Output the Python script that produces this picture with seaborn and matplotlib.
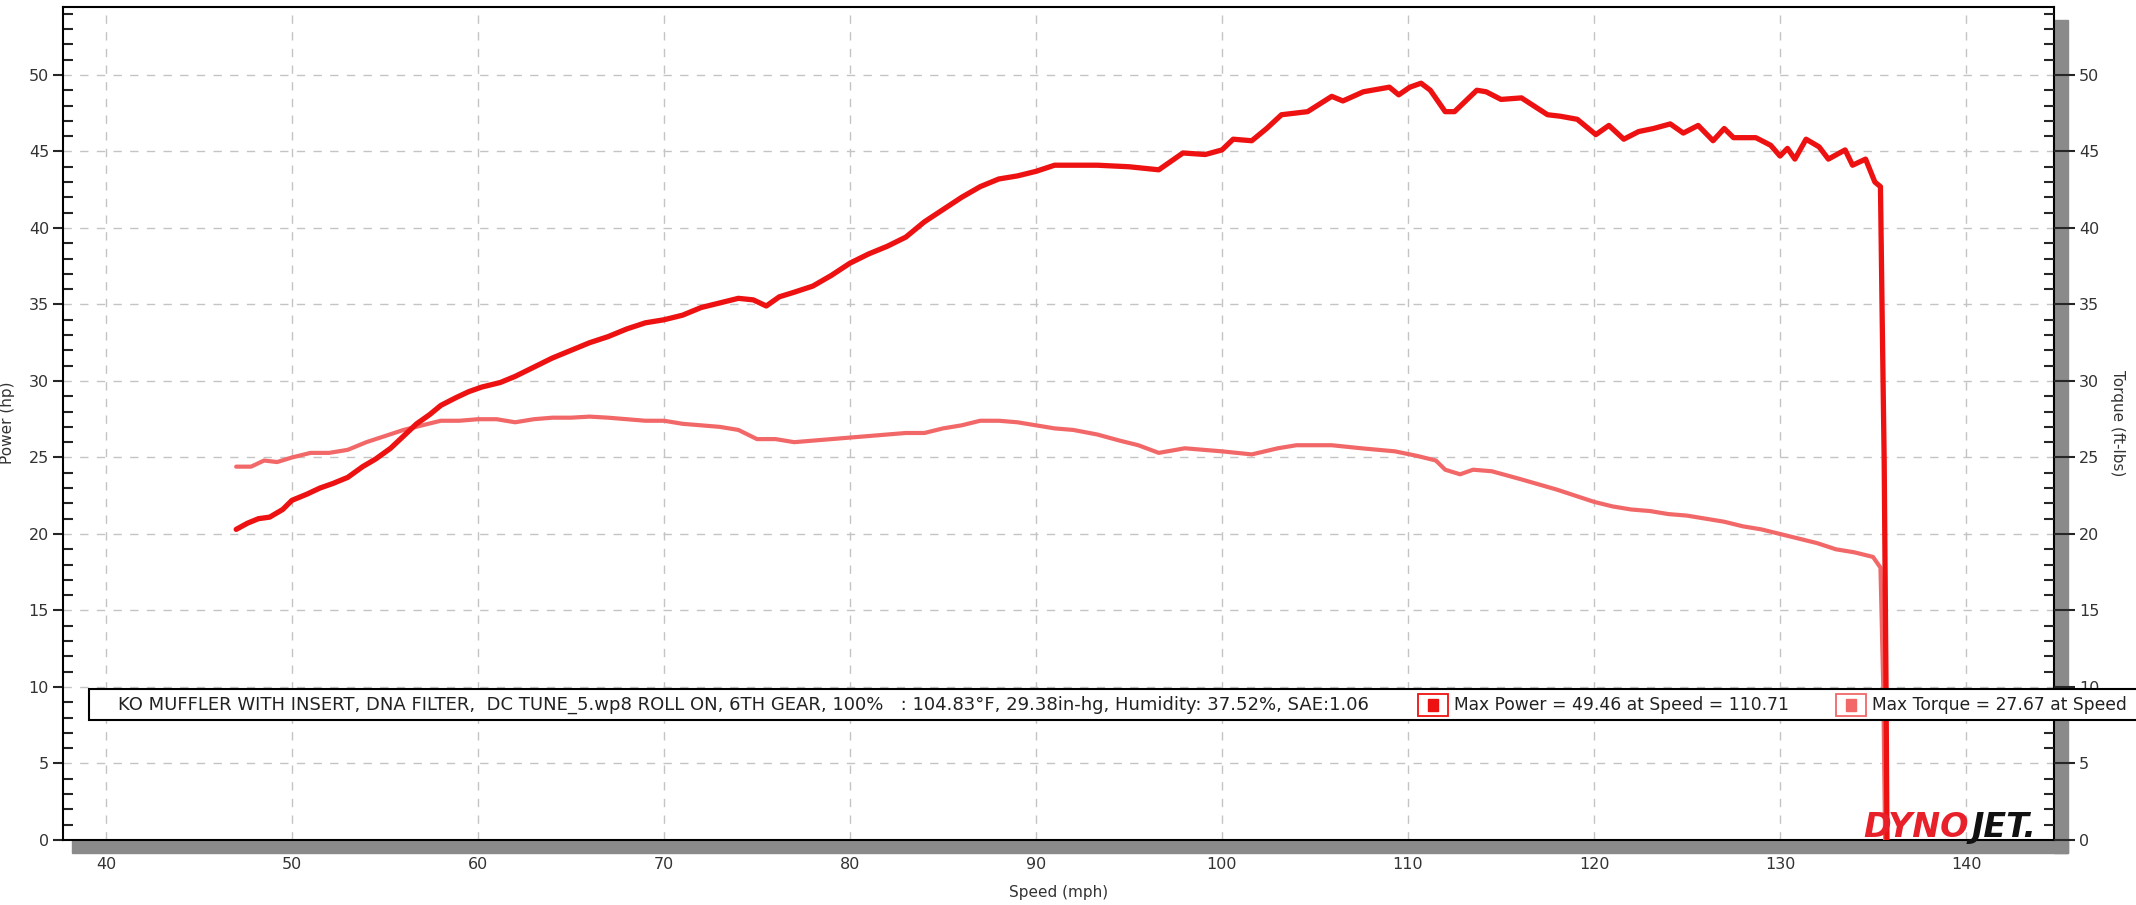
import numpy as np
import pandas as pd
from matplotlib import pyplot as plt
from matplotlib.patches import Rectangle
from matplotlib.ticker import MultipleLocator
import seaborn as sns
sns.set_style("white")
plt.rcParams['font.family'] = ['DejaVu Sans']

# Dyno run: power and torque vs road speed

power_speed = [47.0, 47.6, 48.2, 48.8, 49.5, 50.0, 50.8, 51.5, 52.2, 53.0,
               53.8, 54.5, 55.3, 56.0, 56.7, 57.4, 58.0, 58.8, 59.5, 60.2,
               61.2, 62.0, 63.0, 64.0, 65.0, 66.0, 67.0, 68.0, 69.0, 70.0,
               71.0, 72.0, 73.0, 74.0, 74.8, 75.5, 76.2, 77.0, 78.0, 79.0,
               80.0, 81.0, 82.0, 83.0, 84.0, 85.0, 86.0, 87.0, 88.0, 89.0,
               90.0, 91.0, 92.0, 93.3, 95.0, 96.6, 97.9, 99.1, 100.0, 100.6,
               101.6, 102.4, 103.2, 104.6, 105.9, 106.5, 107.6, 109.0, 109.5, 110.1,
               110.7, 111.2, 112.0, 112.5, 113.7, 114.2, 115.0, 116.1, 117.5, 118.2,
               119.1, 120.1, 120.8, 121.6, 122.4, 123.2, 124.1, 124.8, 125.6, 126.4,
               127.0, 127.5, 128.7, 129.5, 130.0, 130.4, 130.8, 131.4, 132.1, 132.6,
               133.5, 133.9, 134.6, 135.1, 135.4, 135.5, 135.6, 135.7, 135.75]
power_hp = [20.3, 20.7, 21.0, 21.1, 21.6, 22.2, 22.6, 23.0, 23.3, 23.7,
            24.4, 24.9, 25.6, 26.4, 27.2, 27.8, 28.4, 28.9, 29.3, 29.6,
            29.9, 30.3, 30.9, 31.5, 32.0, 32.5, 32.9, 33.4, 33.8, 34.0,
            34.3, 34.8, 35.1, 35.4, 35.3, 34.9, 35.5, 35.8, 36.2, 36.9,
            37.7, 38.3, 38.8, 39.4, 40.4, 41.2, 42.0, 42.7, 43.2, 43.4,
            43.7, 44.1, 44.1, 44.1, 44.0, 43.8, 44.9, 44.8, 45.1, 45.8,
            45.7, 46.5, 47.4, 47.6, 48.6, 48.3, 48.9, 49.2, 48.7, 49.2,
            49.46, 49.0, 47.6, 47.6, 49.0, 48.9, 48.4, 48.5, 47.4, 47.3,
            47.1, 46.1, 46.7, 45.8, 46.3, 46.5, 46.8, 46.2, 46.7, 45.7,
            46.5, 45.9, 45.9, 45.4, 44.7, 45.2, 44.5, 45.8, 45.3, 44.5,
            45.1, 44.1, 44.5, 43.0, 42.7, 33.5, 24.8, 10.0, 0.0]

torque_speed = [47.0, 47.8, 48.5, 49.2, 50.0, 51.0, 52.0, 53.0, 54.0, 55.0,
                56.0, 57.0, 58.0, 59.0, 60.0, 61.0, 62.0, 63.0, 64.0, 65.0,
                66.0, 67.0, 68.0, 69.0, 70.0, 71.0, 72.0, 73.0, 74.0, 75.0,
                76.0, 77.0, 78.0, 79.0, 80.0, 81.0, 82.0, 83.0, 84.0, 85.0,
                86.0, 87.0, 88.0, 89.0, 90.0, 91.0, 92.0, 93.3, 94.5, 95.5,
                96.6, 98.0, 100.0, 101.6, 103.0, 104.0, 105.9, 107.5, 109.3, 110.5,
                111.5, 112.0, 112.8, 113.5, 114.5, 116.0, 118.0, 119.0, 120.0, 121.0,
                122.0, 123.0, 124.0, 125.0, 126.0, 127.0, 128.0, 129.0, 130.0, 131.0,
                132.0, 133.0, 134.0, 135.0, 135.4, 135.55, 135.65]
torque_ftlb = [24.4, 24.4, 24.8, 24.7, 25.0, 25.3, 25.3, 25.5, 26.0, 26.4,
               26.8, 27.1, 27.4, 27.4, 27.5, 27.5, 27.3, 27.5, 27.6, 27.6,
               27.67, 27.6, 27.5, 27.4, 27.4, 27.2, 27.1, 27.0, 26.8, 26.2,
               26.2, 26.0, 26.1, 26.2, 26.3, 26.4, 26.5, 26.6, 26.6, 26.9,
               27.1, 27.4, 27.4, 27.3, 27.1, 26.9, 26.8, 26.5, 26.1, 25.8,
               25.3, 25.6, 25.4, 25.2, 25.6, 25.8, 25.8, 25.6, 25.4, 25.1,
               24.8, 24.2, 23.9, 24.2, 24.1, 23.6, 22.9, 22.5, 22.1, 21.8,
               21.6, 21.5, 21.3, 21.2, 21.0, 20.8, 20.5, 20.3, 20.0, 19.7,
               19.4, 19.0, 18.8, 18.5, 17.8, 10.0, 0.0]

x_ticks = [40, 50, 60, 70, 80, 90, 100, 110, 120, 130, 140]
y_ticks = [0, 5, 10, 15, 20, 25, 30, 35, 40, 45, 50]

run_info = ("KO MUFFLER WITH INSERT, DNA FILTER,  DC TUNE_5.wp8 ROLL ON, 6TH GEAR, 100%"
            "   : 104.83\u00b0F, 29.38in-hg, Humidity: 37.52%, SAE:1.06")
max_power_txt = "Max Power = 49.46 at Speed = 110.71"
max_torque_txt = "Max Torque = 27.67 at Speed"

power_color = "#ee1111"
torque_color = "#f26868"

W, H = 2136, 905
fig = plt.figure(figsize=(W / 100, H / 100), dpi=100)
fig.patch.set_facecolor("white")

# plot area in pixels
L, R, T, B = 63, 2054, 7, 840
ax = fig.add_axes([L / W, 1 - B / H, (R - L) / W, (B - T) / H])

df_p = pd.DataFrame({"speed": power_speed, "val": power_hp})
df_t = pd.DataFrame({"speed": torque_speed, "val": torque_ftlb})
sns.lineplot(data=df_t, x="speed", y="val", sort=False, color=torque_color,
             linewidth=3.0, ax=ax, zorder=3)
sns.lineplot(data=df_p, x="speed", y="val", sort=False, color=power_color,
             linewidth=3.8, ax=ax, zorder=4)

ax.set_xlim(37.69, 144.73)
ax.set_ylim(0, 54.44)
ax.set_xlabel("")
ax.set_ylabel("")

ax.set_xticks(x_ticks)
ax.set_yticks(y_ticks)
ax.xaxis.set_minor_locator(MultipleLocator(2))
ax.yaxis.set_minor_locator(MultipleLocator(1))
ax.grid(True, which="major", color="#c4c4c4", linestyle=(0, (6, 6)), linewidth=1.0)
ax.set_axisbelow(True)

for s in ax.spines.values():
    s.set_color("black")
    s.set_linewidth(1.5)

ax.tick_params(axis="x", which="major", direction="out", length=10, width=1.5,
               labelsize=11.5, pad=2, colors="black")
ax.tick_params(axis="x", which="minor", direction="in", length=11, width=1.5)
ax.tick_params(axis="y", which="major", direction="out", length=7, width=1.5,
               labelsize=11.5, pad=3)
ax.tick_params(axis="y", which="minor", direction="in", length=7, width=1.5)
ax.tick_params(labelcolor="#333333")

ax2 = ax.twinx()
ax2.set_ylim(ax.get_ylim())
ax2.set_yticks(y_ticks)
ax2.yaxis.set_minor_locator(MultipleLocator(1))
ax2.tick_params(axis="y", which="major", direction="out", length=15, width=1.5,
                labelsize=11.5, pad=3, labelcolor="#333333")
ax2.tick_params(axis="y", which="minor", direction="in", length=7, width=1.5)
for s in ax2.spines.values():
    s.set_visible(False)

# drop shadow of the plot box
fig.add_artist(Rectangle((72 / W, 1 - 853 / H), (2068 - 72) / W, 13 / H,
                         transform=fig.transFigure, color="#8a8a8a", zorder=-1))
fig.add_artist(Rectangle((R / W, 1 - 853 / H), 14 / W, (853 - 20) / H,
                         transform=fig.transFigure, color="#8a8a8a", zorder=-1))

fig.text(8 / W, 1 - 423 / H, "Power (hp)", rotation=90, ha="center", va="center",
         fontsize=11, color="#333333")
fig.text(2118 / W, 1 - 423 / H, "Torque (ft-lbs)", rotation=270, ha="center",
         va="center", fontsize=11, color="#333333")
fig.text((L + R) / 2 / W, 1 - 892 / H, "Speed (mph)", ha="center", va="center",
         fontsize=11, color="#333333")

# run info box
fig.add_artist(Rectangle((89 / W, 1 - 720 / H), 2100 / W, 31 / H,
                         transform=fig.transFigure, facecolor="white",
                         edgecolor="black", linewidth=1.5, zorder=5))
ty = 1 - 705 / H
fig.text(118 / W, ty, run_info, ha="left", va="center", fontsize=13,
         color="#222222", zorder=6)
for x0, c, txt in [(1418, power_color, max_power_txt),
                   (1836, torque_color, max_torque_txt)]:
    fig.add_artist(Rectangle((x0 / W, 1 - 716 / H), 30 / W, 22 / H,
                             transform=fig.transFigure, facecolor="white",
                             edgecolor=c, linewidth=1.3, zorder=6))
    fig.add_artist(Rectangle(((x0 + 10) / W, 1 - 711 / H), 10 / W, 12 / H,
                             transform=fig.transFigure, color=c, zorder=7))
    fig.text((x0 + 36) / W, ty, txt, ha="left", va="center", fontsize=12.3,
             color="#222222", zorder=6)

# logo
fig.text(1863 / W, 1 - 837 / H, "DYNO", ha="left", va="baseline", fontsize=24,
         fontweight="heavy", fontstyle="italic", color="#e8202a", zorder=8)
fig.text(1972 / W, 1 - 837 / H, "JET.", ha="left", va="baseline", fontsize=24,
         fontweight="heavy", fontstyle="italic", color="#111111", zorder=8)

fig.savefig("out.png", dpi=100)
